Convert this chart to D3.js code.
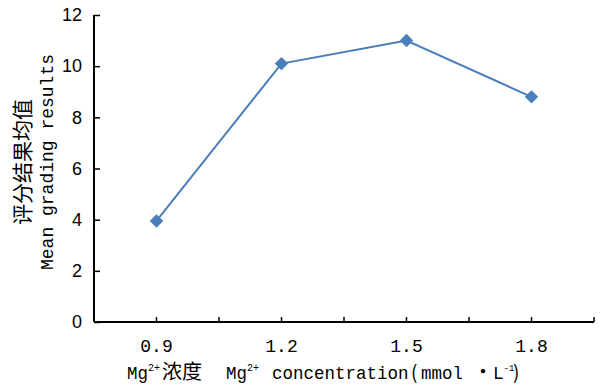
<!DOCTYPE html>
<html>
<head>
<meta charset="utf-8">
<script src="https://cdn.jsdelivr.net/npm/d3@7"></script>
<style>
  body { margin: 0; background: #fff; }
  svg { display: block; }
</style>
</head>
<body>
<div id="chart"></div>
<script>
const categories = ["0.9", "1.2", "1.5", "1.8"];
const scores = [3.95, 10.1, 11.0, 8.8];
const yTicks = [0, 2, 4, 6, 8, 10, 12];

const W = 604, H = 385;
const margin = {top: 15, right: 10, bottom: 63, left: 94};
const width = W - margin.left - margin.right;
const height = H - margin.top - margin.bottom;
const mono = "'Liberation Mono', 'DejaVu Sans Mono', 'Noto Sans CJK SC', monospace";
const cjk = "'Noto Sans CJK SC', sans-serif";

let svg = d3.select("#chart")
    .append("svg")
    .attr("width", W)
    .attr("height", H)
    .append("g")
    .attr("transform", "translate(" + margin.left + "," + margin.top + ")");

let x = d3.scaleBand()
    .domain(categories)
    .range([0, width]);

let y = d3.scaleLinear()
    .domain([0, 12])
    .range([height, 0]);

// tick marks on band edges and band centres (inside)
let xTickPos = [];
categories.forEach(function (c) {
    xTickPos.push(x(c));
    xTickPos.push(x(c) + x.bandwidth() / 2);
});
xTickPos.push(width);

svg.append("g")
    .selectAll("line")
    .data(xTickPos)
    .join("line")
    .attr("x1", d => d)
    .attr("x2", d => d)
    .attr("y1", height)
    .attr("y2", height - 5)
    .attr("stroke", "#000")
    .attr("stroke-width", 1.5);

svg.append("line")
    .attr("x1", 0).attr("x2", width)
    .attr("y1", height).attr("y2", height)
    .attr("stroke", "#000").attr("stroke-width", 2);

svg.append("g")
    .selectAll("text")
    .data(categories)
    .join("text")
    .attr("x", d => x(d) + x.bandwidth() / 2)
    .attr("y", height + 30)
    .attr("text-anchor", "middle")
    .style("font-family", mono)
    .style("font-size", "18px")
    .text(d => d);

// Y axis
let yAxis = svg.append("g")
    .call(d3.axisLeft(y).tickValues(yTicks).tickSize(-6).tickPadding(12).tickFormat(d3.format("d")));
yAxis.select(".domain").attr("stroke-width", 2).attr("d", "M0," + height + "V0");
yAxis.selectAll(".tick line").attr("stroke-width", 1.5);
yAxis.selectAll(".tick text")
    .style("font-family", "'Liberation Sans', Arial, sans-serif")
    .style("font-size", "18px")
    .attr("fill", "#000");

// line + markers
let line = d3.line()
    .x((d, i) => x(categories[i]) + x.bandwidth() / 2)
    .y(d => y(d));

svg.append("path")
    .datum(scores)
    .attr("fill", "none")
    .attr("stroke", "#4a7ebb")
    .attr("stroke-width", 2)
    .attr("d", line);

svg.append("g")
    .selectAll("path")
    .data(scores)
    .join("path")
    .attr("transform", (d, i) => "translate(" + (x(categories[i]) + x.bandwidth() / 2) + "," + y(d) + ")")
    .attr("d", d3.symbol(d3.symbolDiamond2, 115))
    .attr("fill", "#4a7ebb");

// Y title (two lines)
let yt = svg.append("g")
    .attr("transform", "translate(" + (-margin.left) + "," + (162 - margin.top) + ") rotate(-90)");
yt.append("text")
    .attr("x", 0).attr("y", 30)
    .attr("text-anchor", "middle")
    .style("font-family", cjk)
    .style("font-size", "21px")
    .text("评分结果均值");
yt.append("text")
    .attr("x", 0).attr("y", 53)
    .attr("text-anchor", "middle")
    .style("font-family", mono)
    .style("font-size", "18px")
    .text("Mean grading results");

// X title (pieces placed along the baseline)
const xtY = 379 - margin.top;
const ox = -margin.left;
let xt = svg.append("text")
    .attr("y", xtY)
    .style("font-family", mono)
    .style("font-size", "17.5px");
xt.append("tspan").attr("x", ox + 127).text("Mg");
xt.append("tspan").attr("dy", -8).style("font-size", "10px").text("2+");
xt.append("tspan").attr("x", ox + 162).attr("dy", 8).style("font-family", cjk).style("font-size", "20px").text("浓度");
xt.append("tspan").attr("x", ox + 226).text("Mg");
xt.append("tspan").attr("dy", -8).style("font-size", "10px").text("2+");
xt.append("tspan").attr("x", ox + 272).attr("dy", 8).text("concentration");
xt.append("tspan").attr("x", ox + 411).style("font-family", cjk).style("font-size", "19px").text("(");
xt.append("tspan").attr("x", ox + 421).text("mmol");
xt.append("tspan").attr("x", ox + 473).style("font-family", cjk).style("font-size", "20px").text("·");
xt.append("tspan").attr("x", ox + 493).text("L");
xt.append("tspan").attr("dy", -8).style("font-size", "9px").text("-1");
xt.append("tspan").attr("x", ox + 513).attr("dy", 8).style("font-family", cjk).style("font-size", "19px").text(")");
</script>
</body>
</html>
